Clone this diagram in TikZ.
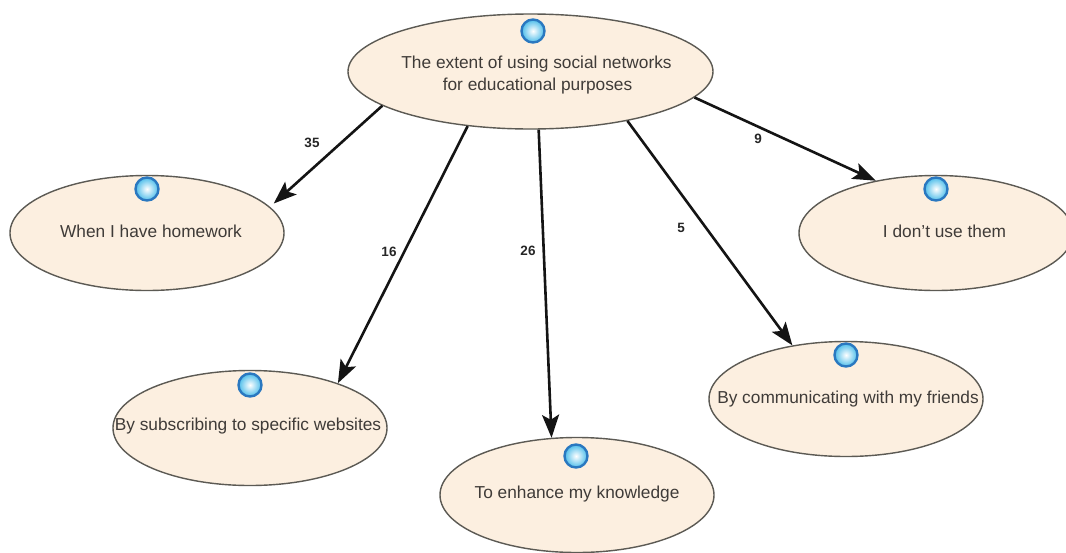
\documentclass[tikz,border=0pt]{standalone}
\usepackage{fontspec}
\setmainfont{Liberation Sans}
\usetikzlibrary{shapes.geometric,arrows.meta}
\definecolor{creamfill}{HTML}{FCEFE0}
\definecolor{edgegray}{HTML}{5C5A54}
\definecolor{txtgray}{HTML}{3F3B38}
\definecolor{ballrim}{HTML}{2A78C0}
\definecolor{ballmid}{HTML}{4DBDEA}
\newcommand{\ovaltext}[3][-4pt]{\raisebox{#1}[0pt][0pt]{\makebox[0pt]{\hspace*{#2}#3}}}
\tikzset{
  oval/.style={ellipse,draw=edgegray,line width=1.4pt,fill=creamfill,minimum width=274pt,minimum height=115pt,inner sep=0pt,text=txtgray,font=\fontsize{17.3}{22}\selectfont,align=center},
  topoval/.style={oval,minimum width=365pt},
  ballmark/.style={circle,minimum size=23pt,inner sep=0pt,draw=ballrim,line width=2.4pt,inner color=white,outer color=ballmid},
  conn/.style={-{Stealth[length=23pt,width=17pt,inset=5pt]},line width=2.6pt,black!92},
  numlbl/.style={font=\fontsize{13.5}{14}\bfseries\selectfont,text=black!85,inner sep=0pt}
}
\begin{document}
\begin{tikzpicture}[x=1pt,y=-1pt]
\clip (0,0) rectangle (1066,552);
\fill[white] (0,0) rectangle (1066,552);
\node[topoval] (top) at (530.5,71.5) {\ovaltext[-8pt]{12pt}{The extent of using social networks}\\\ovaltext[-8pt]{14pt}{for educational purposes}};
\node[oval] (home) at (147,233) {\ovaltext{8pt}{When I have homework}};
\node[oval] (web) at (250,428) {\ovaltext[-2pt]{-4pt}{By subscribing to specific websites}};
\node[oval] (know) at (577,495) {\ovaltext[-3pt]{0pt}{To enhance my knowledge}};
\node[oval] (friends) at (846,399) {\ovaltext{4pt}{By communicating with my friends}};
\node[oval] (none) at (936,233) {\ovaltext{17pt}{I don't use them}};
\node[ballmark] (b0) at (533,31) {};
\node[ballmark] (b1) at (147,189) {};
\node[ballmark] (b2) at (250,385) {};
\node[ballmark] (b3) at (576,456) {};
\node[ballmark] (b4) at (846,355) {};
\node[ballmark] (b5) at (936,189) {};
\draw[conn,shorten >=5pt] (top.193.7) -- (home.12.7);
\draw[conn] (top.221.2) -- (web.27.6);
\draw[conn] (top.278.4) -- (know.114.1);
\draw[conn] (top.333.1) -- (friends.135.5);
\draw[conn] (top.351.8) -- (none.139.8);
\node[numlbl] (n35) at (312,143) {35};
\node[numlbl] (n16) at (389,252) {16};
\node[numlbl] (n26) at (528,251) {26};
\node[numlbl] (n5) at (681,228) {5};
\node[numlbl] (n9) at (758,139) {9};
\end{tikzpicture}
\end{document}
